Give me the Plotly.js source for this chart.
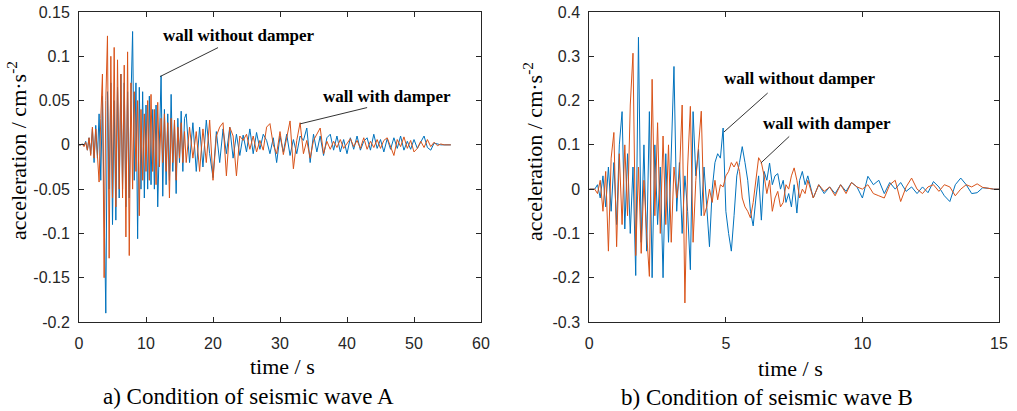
<!DOCTYPE html>
<html>
<head>
<meta charset="utf-8">
<script src="https://cdn.plot.ly/plotly-3.0.1.min.js"></script>
<style>html,body{margin:0;padding:0;background:#fff;}#chart{width:1017px;height:411px;}</style>
</head>
<body>
<div id="chart"></div>
<script>
// ---------- DATA ----------
// Wave A: sampled every 0.25 s from 0 to 15.75 s, then every 0.5 s from 16 to 55.5 s
const stepA1 = 0.25, countA1 = 64, startA2 = 16, stepA2 = 0.5;
const blueA = [
  0,0,0.001,-0.001, 0.004,-0.006,0.008,-0.01, 0.018,-0.02,0.022,-0.015,
  0.035,-0.04,0.055,-0.06, -0.19,0.06,-0.05,0.07, -0.09,0.05,-0.085,0.065,
  -0.06,0.08,-0.05,0.07, -0.07,0.06,-0.06,0.05, 0.128,-0.04,0.07,-0.106,
  0.065,-0.05,0.06,-0.06, 0.045,-0.05,0.055,-0.045, 0.04,-0.05,0.045,-0.07,
  0.02,0.078,-0.058,0.04, -0.045,0.035,-0.04,0.057, -0.03,0.025,-0.055,0.03,
  -0.02,0.038,-0.03,0.03,
  0.035,-0.02,0.025,-0.03,0.02,-0.025,0.028,-0.01,-0.037,0.015,
  -0.02,0.018,-0.01,0.02,-0.015,0.012,-0.012,0.011,-0.008,0.018,
  -0.01,0.014,-0.005,0.012,0.005,-0.01,0.008,-0.02,0.01,-0.008,
  0.012,-0.012,0.006,-0.01,0.01,0.005,0.019,-0.02,0.012,-0.008,
  0.01,-0.012,0.008,0.012,-0.006,0.01,-0.008,0.006,-0.01,0.008,
  -0.005,0.01,-0.006,0.004,0.008,-0.006,0.012,-0.004,0.006,-0.008,
  0.007,-0.005,0.008,-0.004,0.01,-0.006,0.004,-0.005,0.006,-0.004,
  0.003,0.01,-0.003,-0.006,0.002,0.001,0,0,0,0
];
const orangeA = [
  0,0,0.001,-0.002, 0.003,-0.006,0.008,-0.012, 0.02,-0.015,0.018,-0.02,
  -0.042,0.03,0.08,-0.15, 0.05,0.123,-0.128,0.1, -0.06,0.11,-0.07,0.096,
  -0.05,0.08,-0.06,0.09, -0.104,0.105,-0.125,0.07, -0.05,0.06,-0.03,0.05,
  -0.08,0.04,-0.04,0.035, -0.03,0.05,-0.04,0.057, -0.03,0.04,-0.045,0.048,
  -0.025,0.03,-0.02,0.035, -0.03,0.025,-0.06,0.03, -0.02,0.028,-0.04,0.02,
  -0.015,0.025,-0.02,0.015,
  -0.02,0.02,-0.015,0.015,-0.03,0.018,-0.02,0.028,-0.04,0.01,
  0.02,0.025,-0.035,0.02,0.01,-0.035,0.01,0.005,0.012,-0.005,
  0.01,-0.008,0.005,-0.006,0.02,0.024,0,-0.01,0.015,-0.011,
  0.01,0.027,-0.027,0.005,0.025,-0.01,0.005,-0.015,0.005,0.012,
  0.019,-0.01,0.004,-0.005,0.004,-0.003,0.006,-0.004,0.002,0.007,
  -0.002,0.005,-0.004,0.008,-0.005,0.004,-0.003,0.006,-0.004,0.005,
  0.008,-0.003,-0.012,0.006,-0.002,0.009,-0.004,0.005,-0.008,-0.004,
  0.004,-0.003,0.006,-0.002,0.003,-0.001,0.001,0,0,0
];
// Wave B: sampled every 0.1 s from 0 to 8 s, then every 0.2 s from 8.2 to 15 s
const stepB1 = 0.1, countB1 = 81, startB2 = 8.2, stepB2 = 0.2;
const blueB = [
  0,0,0,0.01,-0.02,0.03,-0.04,0.05,-0.05,0.06,
  -0.08,0.1,0.175,-0.09,0.08,-0.1,0.05,-0.195,0.343,-0.12,
  0.1,-0.14,0.175,-0.2,0.1,-0.08,0.05,-0.2,0.08,-0.12,
  0.1,0.277,-0.05,0.06,-0.1,0.03,-0.05,-0.182,0.175,0.03,
  0.09,-0.06,0.05,-0.05,-0.13,0,0.06,0.08,0.07,0.138,
  -0.05,-0.1,-0.14,-0.06,0.03,0.06,0.096,0.06,0.02,-0.05,
  -0.083,-0.02,0.03,-0.07,0.04,0.02,0.059,0.01,0.03,0.035,
  0,0.02,-0.03,-0.01,-0.04,0.01,-0.054,0.02,0.04,0.01,
  0.03,
  -0.02,0.01,-0.01,0.005,-0.01,0.01,-0.005,0.015,0.005,-0.02,
  0.029,0.01,0.02,-0.01,0.015,0,0.015,-0.005,0.005,-0.01,
  0.005,-0.008,0.017,0.005,-0.015,-0.028,0.01,0.025,0.01,-0.01,
  -0.008,0.003,0.002,0,0
];
const orangeB = [
  0,0,0,-0.01,0.02,-0.05,0.04,-0.14,0.07,0.128,
  -0.13,0.08,-0.08,0.1,-0.06,0.19,0.307,-0.15,0.05,-0.145,
  0.02,-0.1,-0.197,0.248,-0.06,0.15,-0.1,0.12,-0.08,0.1,
  -0.12,0.05,-0.02,0.03,0.19,-0.257,0.05,0.187,-0.12,0.02,
  0.1,0.176,-0.06,-0.04,0,-0.03,0.02,-0.024,0.01,0.005,
  0.03,0.04,0.06,0.05,0.062,0.04,-0.02,-0.04,-0.05,-0.065,
  -0.03,0.02,0.071,0.06,0.03,-0.01,0.02,-0.05,-0.02,-0.005,
  -0.04,-0.03,0.01,0,0.03,0.048,0.02,-0.02,0,-0.01,
  0.02,
  -0.02,0.01,-0.005,0.005,-0.015,0.01,-0.01,0.015,0.005,0,
  0.01,-0.01,-0.015,-0.02,0.01,0.02,-0.028,0.005,0.025,0,
  -0.01,0.005,0.01,-0.005,0.01,0.005,-0.015,0,0.01,0.005,
  0.012,0.004,0.002,0,0
];
const seriesNames = ['wall without damper', 'wall with damper'];
const xTicksA = [0,10,20,30,40,50,60];
const yTicksA = [-0.2,-0.15,-0.1,-0.05,0,0.05,0.1,0.15];
const yTickTextA = ['-0.2','-0.15','-0.1','-0.05','0','0.05','0.1','0.15'];
const xTicksB = [0,5,10,15];
const yTicksB = [-0.3,-0.2,-0.1,0,0.1,0.2,0.3,0.4];
const yTickTextB = ['-0.3','-0.2','-0.1','0','0.1','0.2','0.3','0.4'];
const captions = ['a) Condition of seismic wave A', 'b) Condition of seismic wave B'];

// ---------- BUILD ----------
function sampleTimes(n, step1, count1, start2, step2) {
  const t = [];
  for (let i = 0; i < n; i++) {
    t.push(i < count1 ? +(i * step1).toFixed(3) : +(start2 + (i - count1) * step2).toFixed(3));
  }
  return t;
}
const tA = sampleTimes(blueA.length, stepA1, countA1, startA2, stepA2);
const tB = sampleTimes(blueB.length, stepB1, countB1, startB2, stepB2);

const BLUE = '#0072BD', ORANGE = '#D95319';
const traces = [
  {x: tA, y: blueA, xaxis: 'x', yaxis: 'y', mode: 'lines', name: seriesNames[0], line: {color: BLUE, width: 1}},
  {x: tA, y: orangeA, xaxis: 'x', yaxis: 'y', mode: 'lines', name: seriesNames[1], line: {color: ORANGE, width: 1}},
  {x: tB, y: blueB, xaxis: 'x2', yaxis: 'y2', mode: 'lines', name: seriesNames[0], line: {color: BLUE, width: 1}},
  {x: tB, y: orangeB, xaxis: 'x2', yaxis: 'y2', mode: 'lines', name: seriesNames[1], line: {color: ORANGE, width: 1}}
];

const W = 1017, H = 411;
const axBase = {
  showgrid: false, zeroline: false, showline: true, linecolor: '#262626', linewidth: 1,
  mirror: 'ticks', ticks: 'inside', ticklen: 5, tickcolor: '#262626',
  tickfont: {family: 'Liberation Sans, Arial, sans-serif', size: 16, color: '#262626'},
  fixedrange: true
};
const ser = {family: 'Liberation Serif, Times New Roman, serif', color: '#000'};
const yDom = [1 - 322 / H, 1 - 12 / H];
function txt(xref, yref, x, y, text, size, extra) {
  return Object.assign({xref: xref, yref: yref, x: x, y: y, text: text, showarrow: false,
    xanchor: 'center', yanchor: 'middle', font: Object.assign({size: size}, ser)}, extra || {});
}

const layout = {
  width: W, height: H, autosize: false,
  margin: {l: 0, r: 0, t: 0, b: 0},
  paper_bgcolor: '#fff', plot_bgcolor: '#fff', showlegend: false,
  xaxis: Object.assign({}, axBase, {domain: [79 / W, 481 / W], range: [0, 60], tickvals: xTicksA, ticklabelstandoff: 7, anchor: 'y'}),
  yaxis: Object.assign({}, axBase, {domain: yDom, range: [-0.2, 0.15], tickvals: yTicksA, ticktext: yTickTextA, ticklabelstandoff: 5, anchor: 'x'}),
  xaxis2: Object.assign({}, axBase, {domain: [589.3 / W, 999 / W], range: [0, 15], tickvals: xTicksB, ticklabelstandoff: 7, anchor: 'y2'}),
  yaxis2: Object.assign({}, axBase, {domain: yDom, range: [-0.3, 0.4], tickvals: yTicksB, ticktext: yTickTextB, ticklabelstandoff: 5, anchor: 'x2'}),
  shapes: [
    {type: 'line', xref: 'x', yref: 'y', x0: 12.1, y0: 0.0771, x1: 20.75, y1: 0.1098, line: {color: '#333', width: 1}},
    {type: 'line', xref: 'x', yref: 'y', x0: 33.0, y0: 0.0237, x1: 43.0, y1: 0.0421, line: {color: '#333', width: 1}},
    {type: 'line', xref: 'x2', yref: 'y2', x0: 4.93, y0: 0.129, x1: 6.53, y1: 0.217, line: {color: '#333', width: 1}},
    {type: 'line', xref: 'x2', yref: 'y2', x0: 6.28, y0: 0.059, x1: 7.32, y1: 0.119, line: {color: '#333', width: 1}}
  ],
  annotations: [
    txt('x', 'y', 23.9, 0.1235, '<b>' + seriesNames[0] + '</b>', 17),
    txt('x', 'y', 46.0, 0.0542, '<b>' + seriesNames[1] + '</b>', 17),
    txt('x2', 'y2', 7.71, 0.249, '<b>' + seriesNames[0] + '</b>', 17),
    txt('x2', 'y2', 8.7, 0.148, '<b>' + seriesNames[1] + '</b>', 17),
    txt('paper', 'paper', 17 / W, 1 - 151 / H, 'acceleration / cm·s<sup>-2</sup>', 22, {textangle: -90}),
    txt('paper', 'paper', 533 / W, 1 - 152 / H, 'acceleration / cm·s<sup>-2</sup>', 22, {textangle: -90}),
    txt('paper', 'paper', 282 / W, 1 - 366 / H, 'time / s', 22),
    txt('paper', 'paper', 790 / W, 1 - 368 / H, 'time / s', 22),
    txt('paper', 'paper', 248 / W, 1 - 396 / H, captions[0], 23),
    txt('paper', 'paper', 767 / W, 1 - 397 / H, captions[1], 23)
  ]
};

Plotly.newPlot('chart', traces, layout, {displayModeBar: false, staticPlot: true});
</script>
</body>
</html>
